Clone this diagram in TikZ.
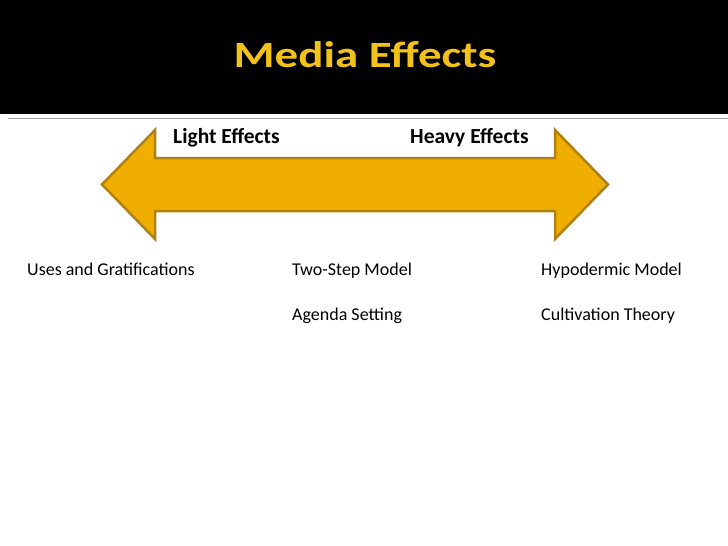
\documentclass[tikz,border=0pt]{standalone}
\usepackage{fontspec}
\setmainfont{Carlito}
\definecolor{titlegold}{HTML}{F2C21B}
\definecolor{arrowfill}{HTML}{F0AE00}
\definecolor{arrowedge}{HTML}{B08012}
\definecolor{rulegray}{HTML}{A0A0A0}
\begin{document}
\begin{tikzpicture}[x=1pt,y=-1pt,
  lbl/.style={anchor=base west,inner sep=0pt,font=\fontsize{18}{20}\selectfont},
  blbl/.style={anchor=base west,inner sep=0pt,font=\fontsize{21.5}{24}\selectfont\bfseries}]
\useasboundingbox (0,0) rectangle (728,546);
\fill[white] (0,0) rectangle (728,546);
\fill[black] (0,0) rectangle (728,114);
\draw[rulegray,line width=1.2pt] (8,118.5) -- (728,118.5);
\node[anchor=base,inner sep=0pt,text=titlegold,font=\fontsize{37}{42}\selectfont\bfseries] (title) at (365,67) {\scalebox{1.27}[1]{Media Effects}};
\draw[arrowedge,fill=arrowfill,line width=2.5pt,line join=miter]
  (102,184.5) -- (155,130) -- (155,158) -- (555,158) -- (555,130) -- (608,184.5)
  -- (555,239) -- (555,211) -- (155,211) -- (155,239) -- cycle;
\node[blbl] (light) at (173,143) {Light Effects};
\node[blbl] (heavy) at (410,143) {Heavy Effects};
\node[lbl] (ug) at (27,275) {Uses and Gratifications};
\node[lbl] (ts) at (292,275) {Two-Step Model};
\node[lbl] (as) at (292,320) {Agenda Setting};
\node[lbl] (hm) at (541,275) {Hypodermic Model};
\node[lbl] (ct) at (541,320) {Cultivation Theory};
\end{tikzpicture}
\end{document}
